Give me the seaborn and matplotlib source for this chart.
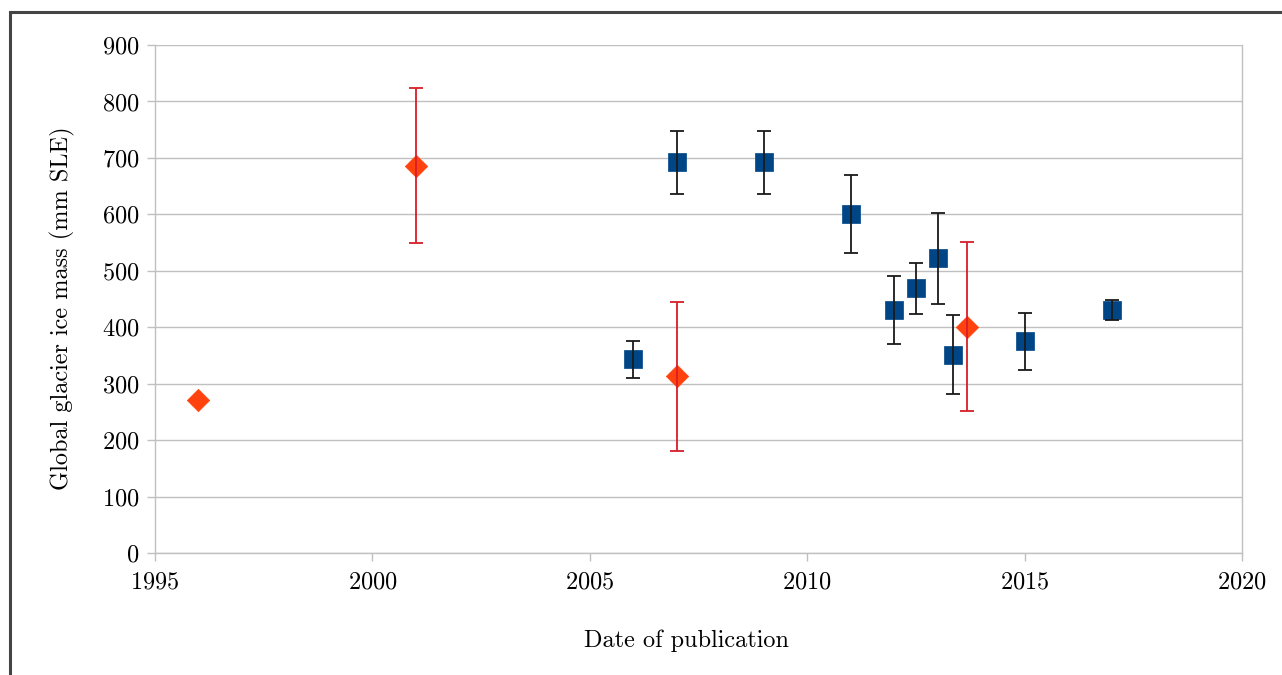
import matplotlib
matplotlib.use("Agg")
import matplotlib.pyplot as plt
import seaborn as sns
import pandas as pd
from matplotlib.patches import Rectangle

# Estimativas com quadrado azul
blue_year = [2006.0, 2007.0, 2009.0, 2011.0, 2012.0, 2012.5, 2013.0, 2013.35, 2015.0, 2017.0]
blue_mass = [343, 692, 692, 600, 430, 469, 522, 351, 375, 430]
blue_err = [33, 56, 56, 69, 60, 45, 80, 70, 50, 18]

# Estimativas com losango vermelho
red_year = [1996.0, 2001.0, 2007.0, 2013.67]
red_mass = [271, 686, 313, 401]
red_err = [0, 137, 132, 150]

x_ticks = [1995, 2000, 2005, 2010, 2015, 2020]
y_ticks = [0, 100, 200, 300, 400, 500, 600, 700, 800, 900]

blue_df = pd.DataFrame({"year": blue_year, "mass": blue_mass, "err": blue_err})
red_df = pd.DataFrame({"year": red_year, "mass": red_mass, "err": red_err})

sns.set_style("white")
plt.rcParams["font.family"] = ["cmr10", "DejaVu Serif"]
plt.rcParams["axes.formatter.use_mathtext"] = True

fig = plt.figure(figsize=(12.82, 6.75), dpi=100)
ax = fig.add_axes([0.1209, 0.1807, 0.8479, 0.7526])

# Moldura externa da figura
fig.patches.append(Rectangle((10 / 1282, -0.1), 1.2, 0.1 + (675 - 12) / 675,
                             transform=fig.transFigure, fill=False,
                             edgecolor="#444444", linewidth=2.2))

sns.scatterplot(data=blue_df, x="year", y="mass", marker="s", s=175,
                color="#004586", edgecolor="#004586", linewidth=0.5,
                ax=ax, zorder=3)
sns.scatterplot(data=red_df, x="year", y="mass", marker="D", s=130,
                color="#ff420e", edgecolor="#ff420e", linewidth=0.5,
                ax=ax, zorder=3)

# Barras de erro apenas onde existe incerteza
blue_eb = blue_df[blue_df["err"] > 0]
red_eb = red_df[red_df["err"] > 0]
ax.errorbar(blue_eb["year"], blue_eb["mass"], yerr=blue_eb["err"], fmt="none",
            ecolor="#1a1a1a", elinewidth=1.3, capsize=5, capthick=1.3, zorder=4)
ax.errorbar(red_eb["year"], red_eb["mass"], yerr=red_eb["err"], fmt="none",
            ecolor="#d81e28", elinewidth=1.3, capsize=5, capthick=1.3, zorder=4)

ax.set_xlim(1995, 2020)
ax.set_ylim(0, 900)
ax.set_xticks(x_ticks)
ax.set_yticks(y_ticks)
ax.grid(axis="y", color="#c0c0c0", linewidth=1.0)
ax.set_axisbelow(True)

for side in ["left", "bottom", "right"]:
    ax.spines[side].set_color("#c0c0c0")
    ax.spines[side].set_linewidth(1.0)
ax.spines["top"].set_visible(False)

ax.tick_params(axis="both", which="major", labelsize=17.5, length=6,
               width=1.0, color="#c0c0c0", labelcolor="black", direction="out",
               bottom=True, left=True)
ax.tick_params(axis="x", pad=7)
ax.tick_params(axis="y", pad=5)

ax.set_xlabel("Date of publication", fontsize=17.5, labelpad=24, color="black")
ax.set_ylabel("Global glacier ice mass (mm SLE)", fontsize=17.5, labelpad=20,
              color="black")
ax.xaxis.set_label_coords(0.489, -0.15)
ax.yaxis.set_label_coords(-0.074, 0.482)

plt.savefig("out.png", dpi=100)
